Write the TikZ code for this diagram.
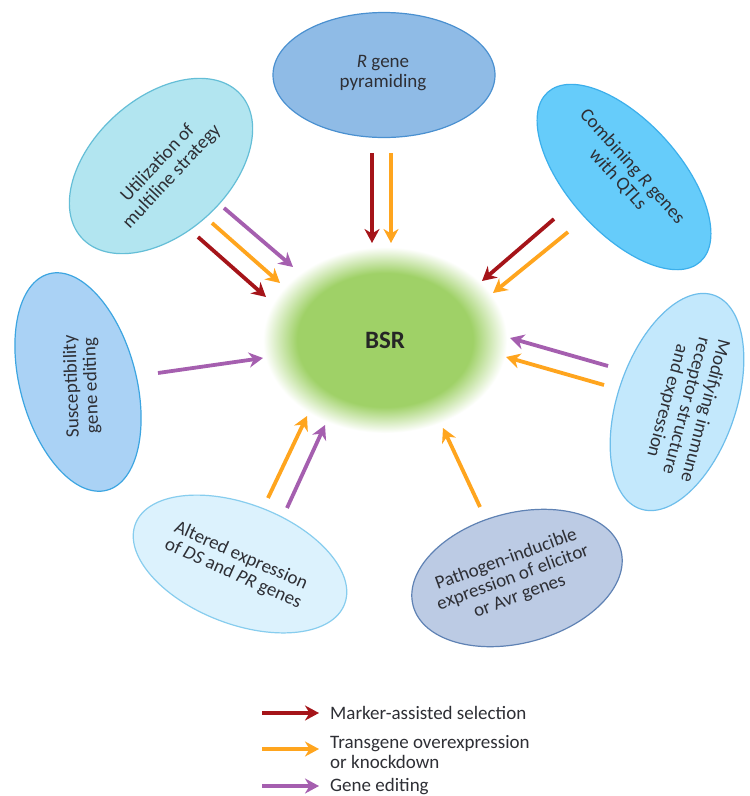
\documentclass[tikz,border=0pt]{standalone}
\usepackage{fontspec}
\setmainfont{Carlito}
\usetikzlibrary{arrows.meta,shapes.geometric}
\definecolor{cred}{HTML}{A51419}
\definecolor{corange}{HTML}{FFA51E}
\definecolor{cpurple}{HTML}{A55FAF}
\definecolor{txt}{HTML}{2E2F35}
\definecolor{bsrg}{HTML}{9FD167}
\definecolor{ftop}{HTML}{8FBBE6}\definecolor{btop}{HTML}{4A90D0}
\definecolor{ftl}{HTML}{B2E5F0}\definecolor{btl}{HTML}{64BED7}
\definecolor{ftr}{HTML}{66CCFA}\definecolor{btr}{HTML}{3CAFEB}
\definecolor{fle}{HTML}{AAD2F5}\definecolor{ble}{HTML}{3CA5E1}
\definecolor{fri}{HTML}{C3E8FC}\definecolor{bri}{HTML}{6EBEEB}
\definecolor{fbl}{HTML}{DCF2FD}\definecolor{bbl}{HTML}{87CDEE}
\definecolor{fbr}{HTML}{BCCBE4}\definecolor{bbr}{HTML}{5F82B4}
\pgfdeclareradialshading{bsrshade}{\pgfpointorigin}{color(0bp)=(bsrg); color(18bp)=(bsrg); color(25bp)=(white); color(50bp)=(white)}
\begin{document}
\begin{tikzpicture}[x=1pt,y=-1pt,
  el/.style={ellipse, draw, line width=1.2pt, inner sep=0pt},
  lbl/.style={text=txt, align=center, inner sep=0pt, font=\fontsize{19}{19.5}\selectfont},
  leg/.style={text=txt, align=left, anchor=west, inner sep=0pt, font=\fontsize{19}{20}\selectfont},
  arr/.style={line width=3.8pt, -{Stealth[length=14pt,width=15pt,inset=4.5pt]}},
  mas/.style={arr, draw=cred},
  tgo/.style={arr, draw=corange},
  ged/.style={arr, draw=cpurple}]
\useasboundingbox (0,0) rectangle (750,796);
\fill[white] (0,0) rectangle (750,796);

% centre
\node[ellipse, shade, shading=bsrshade, minimum width=244pt, minimum height=186pt, inner sep=0pt,
      font=\bfseries\fontsize{25}{25}\selectfont, text=black!85] (bsr) at (385,340) {BSR};

% ellipses
\node[el, fill=ftop, draw=btop, minimum width=222pt, minimum height=125pt] (top) at (384,75) {};
\node[lbl] (topT) at (383,73) {\textit{R} gene\\pyramiding};

\node[el, fill=ftl, draw=btl, minimum width=214pt, minimum height=136pt, rotate=42] (tl) at (161,166) {};
\node[lbl, rotate=47] (tlT) at (165,170) {Utilization of\\multiline strategy};

\node[el, fill=ftr, draw=btr, minimum width=228pt, minimum height=112pt, rotate=-48] (tr) at (624,177) {};
\node[lbl, rotate=-48] (trT) at (625,173) {Combining \textit{R} genes\\with QTLs};

\node[el, fill=fle, draw=ble, minimum width=224pt, minimum height=116pt, rotate=105] (le) at (78,382) {};
\node[lbl, rotate=92] (leT) at (82,386) {Susceptibility\\gene editing};

\node[el, fill=fri, draw=bri, minimum width=226pt, minimum height=118pt, rotate=71] (ri) at (677,402) {};
\node[lbl, rotate=-105] (riT) at (686,406) {Modifying immune\\receptor structure\\and expression};

\node[el, fill=fbl, draw=bbl, minimum width=224pt, minimum height=120pt, rotate=-21] (bl) at (240,564) {};
\node[lbl, rotate=-24] (blT) at (237,565) {Altered expression\\of \textit{DS} and \textit{PR} genes};

\node[el, fill=fbr, draw=bbr, minimum width=215pt, minimum height=130pt, rotate=15] (br) at (517,578) {};
\node[lbl, rotate=20] (brT) at (513,578) {Pathogen-inducible\\expression of elicitor\\or Avr genes};

% arrow end points
\coordinate (a1s) at (372,153); \coordinate (a1e) at (372,243);
\coordinate (a2s) at (391,153); \coordinate (a2e) at (391,243);
\coordinate (b1s) at (198,237); \coordinate (b1e) at (266,297);
\coordinate (b2s) at (212,223); \coordinate (b2e) at (280,283);
\coordinate (b3s) at (224,208); \coordinate (b3e) at (293,267);
\coordinate (c1s) at (554,219); \coordinate (c1e) at (482,281);
\coordinate (c2s) at (568,232); \coordinate (c2e) at (493,293);
\coordinate (d1s) at (158,373); \coordinate (d1e) at (263,358);
\coordinate (e1s) at (608,366); \coordinate (e1e) at (510,338);
\coordinate (e2s) at (604,385); \coordinate (e2e) at (506,357);
\coordinate (f1s) at (268,498); \coordinate (f1e) at (307,416);
\coordinate (f2s) at (287,508); \coordinate (f2e) at (325,425);
\coordinate (g1s) at (480,507); \coordinate (g1e) at (443,428);

\draw[mas] (a1s) -- (a1e);
\draw[tgo] (a2s) -- (a2e);
\draw[mas] (b1s) -- (b1e);
\draw[tgo] (b2s) -- (b2e);
\draw[ged] (b3s) -- (b3e);
\draw[mas] (c1s) -- (c1e);
\draw[tgo] (c2s) -- (c2e);
\draw[ged] (d1s) -- (d1e);
\draw[ged] (e1s) -- (e1e);
\draw[tgo] (e2s) -- (e2e);
\draw[tgo] (f1s) -- (f1e);
\draw[ged] (f2s) -- (f2e);
\draw[tgo] (g1s) -- (g1e);

% legend
\coordinate (l1s) at (262,713); \coordinate (l1e) at (319,713);
\coordinate (l2s) at (262,749); \coordinate (l2e) at (319,749);
\coordinate (l3s) at (262,786); \coordinate (l3e) at (319,786);
\draw[mas] (l1s) -- (l1e);
\draw[tgo] (l2s) -- (l2e);
\draw[ged] (l3s) -- (l3e);
\node[leg] (t1) at (330,713) {Marker-assisted selection};
\node[leg] (t2) at (330,752) {Transgene overexpression\\or knockdown};
\node[leg] (t3) at (330,787) {Gene editing};
\end{tikzpicture}
\end{document}
